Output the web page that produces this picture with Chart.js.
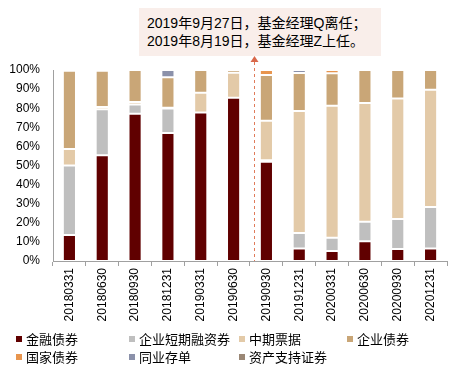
<!DOCTYPE html>
<html>
<head>
<meta charset="utf-8">
<script src="https://cdn.jsdelivr.net/npm/chart.js@4"></script>
<style>
  body { margin: 0; background: #fff; font-family: "Liberation Sans", Arial, "Noto Sans CJK SC", sans-serif; }
  #wrap { position: relative; width: 449px; height: 370px; }
  #chart { position: absolute; left: 0; top: 0; }
  #note {
    position: absolute; left: 139px; top: 8px; width: 242px; height: 48px;
    background: #f9eeea; font-size: 14px; line-height: 18px; color: #000;
    padding: 6px 0 0 8px; box-sizing: border-box;
    font-family: "Liberation Sans", Arial, "Noto Sans CJK SC", sans-serif;
  }
  #legend { position: absolute; left: 0; top: 330px; width: 449px; font-size: 13px; color: #000;
    font-family: "Noto Sans CJK SC", sans-serif; }
  .item { position: absolute; white-space: nowrap; line-height: 18px; }
  .item i { display: inline-block; width: 6px; height: 6px; margin-right: 4px; vertical-align: 2px; }
</style>
</head>
<body>
<div id="wrap">
  <canvas id="chart" width="449" height="330"></canvas>
  <div id="note">2019年9月27日，基金经理Q离任；<br>2019年8月19日，基金经理Z上任。</div>
  <div id="legend"></div>
</div>
<script>
const categories = ["20180331", "20180630", "20180930", "20181231", "20190331", "20190630",
  "20190930", "20191231", "20200331", "20200630", "20200930", "20201231"];

const seriesNames = ["金融债券", "企业短期融资券", "中期票据", "企业债券", "国家债券", "同业存单", "资产支持证券"];
const seriesColors = ["#600000", "#bfbfbf", "#e3caa8", "#c9a677", "#e8954e", "#8b91aa", "#9a8775"];

const financialBonds = [13.6, 55.4, 77.1, 67.0, 77.8, 85.5, 51.9, 6.6, 5.2, 10.3, 6.3, 6.5];
const shortTermNotes = [36.4, 24.0, 4.9, 12.9, 0, 0, 0.9, 8.1, 7.0, 10.2, 15.7, 21.8];
const mediumTermNotes = [8.6, 1.2, 1.2, 0.3, 10.3, 13.1, 20.6, 63.8, 69.1, 62.2, 63.1, 61.4];
const corporateBonds = [41.0, 19.0, 16.8, 16.0, 11.9, 1.4, 24.0, 19.9, 17.0, 17.3, 14.9, 10.3];
const governmentBonds = [0, 0, 0, 0, 0, 0, 2.6, 0, 1.7, 0, 0, 0];
const interbankCDs = [0, 0, 0, 3.8, 0, 0, 0, 1.6, 0, 0, 0, 0];
const assetBacked = [0.4, 0.4, 0, 0, 0, 0, 0, 0, 0, 0, 0, 0];

const yTicks = [0, 10, 20, 30, 40, 50, 60, 70, 80, 90, 100];
const markerIndex = 5.62; // between 20190630 and 20190930

const seriesData = [financialBonds, shortTermNotes, mediumTermNotes, corporateBonds,
  governmentBonds, interbankCDs, assetBacked];

const datasets = seriesNames.map((name, i) => ({
  label: name,
  data: seriesData[i],
  backgroundColor: seriesColors[i],
  borderColor: "rgba(255,255,255,0.45)",
  borderWidth: ctx => (ctx.raw > 0 ? 1 : 0),
  borderSkipped: false,
  barPercentage: 0.4,
  categoryPercentage: 1
}));

const markerPlugin = {
  id: "marker",
  afterDatasetsDraw(chart) {
    const { ctx, scales: { x, y } } = chart;
    const px = Math.round(x.getPixelForValue(markerIndex)) + 0.5;
    ctx.save();
    ctx.strokeStyle = "#e07b5a";
    ctx.lineWidth = 1;
    ctx.setLineDash([3, 3]);
    ctx.beginPath();
    ctx.moveTo(px, 62);
    ctx.lineTo(px, y.bottom);
    ctx.stroke();
    ctx.setLineDash([]);
    ctx.fillStyle = "#d9684a";
    ctx.beginPath();
    ctx.moveTo(px, 56);
    ctx.lineTo(px - 4, 62);
    ctx.lineTo(px + 4, 62);
    ctx.closePath();
    ctx.fill();
    ctx.restore();
  }
};

new Chart(document.getElementById("chart"), {
  type: "bar",
  data: { labels: categories, datasets },
  options: {
    responsive: false,
    animation: false,
    layout: { padding: { top: 70, right: 2, left: 0, bottom: 0 } },
    plugins: { legend: { display: false }, tooltip: { enabled: false } },
    scales: {
      x: {
        stacked: true,
        afterFit: s => { s.height = 69; },
        border: { color: "#a0a0a0" },
        grid: { display: true, drawOnChartArea: false, offset: true, tickLength: 5, color: "#a0a0a0" },
        ticks: {
          maxRotation: 90, minRotation: 90, autoSkip: false, padding: 2,
          color: "#000", font: { family: "Liberation Sans, Arial", size: 12 }
        }
      },
      y: {
        stacked: true,
        min: 0, max: 100,
        afterFit: s => { s.width = 53; },
        afterBuildTicks: s => { s.ticks = yTicks.map(v => ({ value: v })); },
        border: { color: "#a0a0a0" },
        grid: { display: false },
        ticks: {
          padding: 5, color: "#000",
          font: { family: "Liberation Sans, Arial", size: 12 },
          callback: v => v + "%"
        }
      }
    }
  },
  plugins: [markerPlugin]
});

// legend laid out in four columns like the reference
const legendCols = [16, 129, 239, 347];
const legendRows = [0, 18];
const legend = document.getElementById("legend");
seriesNames.forEach((name, i) => {
  const div = document.createElement("div");
  div.className = "item";
  div.style.left = legendCols[i % 4] + "px";
  div.style.top = legendRows[Math.floor(i / 4)] + "px";
  div.innerHTML = `<i style="background:${seriesColors[i]}"></i>${name}`;
  legend.appendChild(div);
});
</script>
</body>
</html>
